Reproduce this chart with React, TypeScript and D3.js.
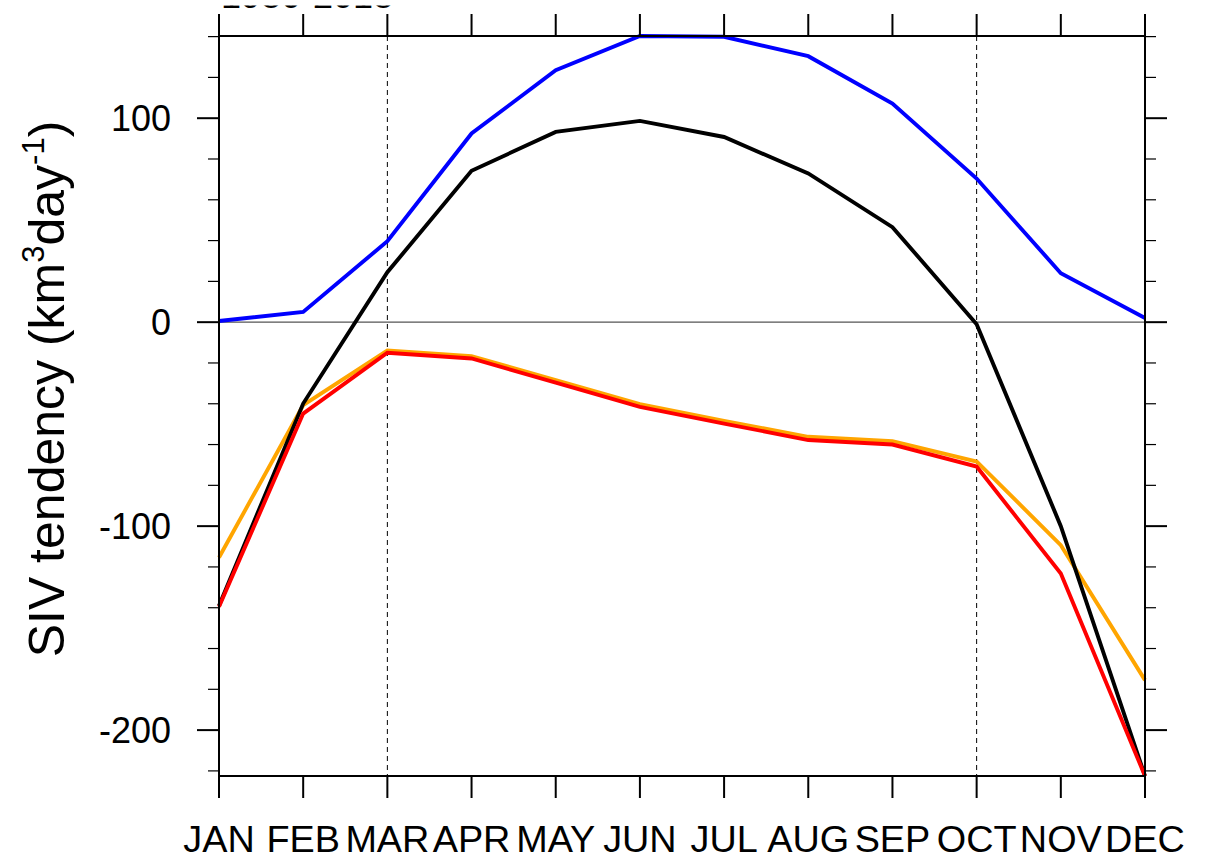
import React from "react";
import * as d3 from "d3";

const months = ["JAN", "FEB", "MAR", "APR", "MAY", "JUN", "JUL", "AUG", "SEP", "OCT", "NOV", "DEC"];
const blueSeries = [0.6, 5.0, 39.7, 92.5, 123.5, 140.3, 139.9, 130.4, 107.2, 70.4, 24.0, 2.0];
const blackSeries = [-139, -39.9, 24.5, 74.2, 93.3, 98.7, 90.8, 72.9, 46.6, -1.0, -100.0, -222.5];
const orangeSeries = [-115.4, -40.7, -13.9, -16.7, -28.4, -40.2, -48.4, -56.2, -58.3, -68.3, -109.3, -175.5];
const redSeries = [-139.5, -44.8, -15.0, -17.8, -29.7, -41.5, -49.7, -57.8, -60.0, -70.8, -123.2, -222.5];
const yMajorTicks = [-200, -100, 0, 100];
const yMinorTicks = d3.range(-220, 141, 20);
const dashedMonths = ["MAR", "OCT"];
const leftString = "1980-2018";

const W = 1212, H = 859;
const L = 219, R = 1145, T = 36, B = 776;

export default function App() {
  const x = d3.scalePoint<string>().domain(months).range([L, R]);
  const y = d3.scaleLinear().domain([-222.5, 140.3]).range([B, T]);
  const line = (vals: number[]) =>
    d3.line<number>().x((_, i) => x(months[i]) as number).y((d) => y(d))(vals) as string;

  const series = [
    { vals: blueSeries, color: "#0000ff" },
    { vals: orangeSeries, color: "#ffa500" },
    { vals: blackSeries, color: "#000000" },
    { vals: redSeries, color: "#ff0000" },
  ];
  const font = "'Liberation Sans', Arial, Helvetica, sans-serif";

  return (
    <svg width={W} height={H} style={{ position: "absolute", left: 0, top: 0, background: "#fff" }} fontFamily={font}>
      <defs>
        <clipPath id="titleClip">
          <rect x={0} y={5.5} width={W} height={4} />
        </clipPath>
      </defs>
      <rect x={0} y={0} width={W} height={H} fill="#fff" />
      <g clipPath="url(#titleClip)">
        <text x={L + 2} y={8} fontSize={36} fill="#000">{leftString}</text>
      </g>
      {/* zero line */}
      <line x1={L} x2={R} y1={y(0)} y2={y(0)} stroke="#555" strokeWidth={1.2} />
      {/* dashed month lines */}
      {dashedMonths.map((m) => (
        <line key={m} x1={x(m)} x2={x(m)} y1={T} y2={B} stroke="#000" strokeWidth={1} strokeDasharray="5,4" />
      ))}
      {/* series */}
      {series.map((s, i) => (
        <path key={i} d={line(s.vals)} fill="none" stroke={s.color} strokeWidth={3.9} strokeLinejoin="miter" />
      ))}
      {/* y minor ticks */}
      {yMinorTicks.filter((v) => !yMajorTicks.includes(v)).map((v) => (
        <g key={"m" + v}>
          <line x1={L - 11} x2={L} y1={y(v)} y2={y(v)} stroke="#000" strokeWidth={1.2} />
          <line x1={R} x2={R + 11} y1={y(v)} y2={y(v)} stroke="#000" strokeWidth={1.2} />
        </g>
      ))}
      {yMajorTicks.map((v) => (
        <g key={"M" + v}>
          <line x1={L - 22} x2={L} y1={y(v)} y2={y(v)} stroke="#000" strokeWidth={2} />
          <line x1={R} x2={R + 22} y1={y(v)} y2={y(v)} stroke="#000" strokeWidth={2} />
          <text x={171} y={y(v) + 13} fontSize={36} textAnchor="end" fill="#000">{v}</text>
        </g>
      ))}
      {/* x ticks */}
      {months.map((m) => (
        <g key={m}>
          <line x1={x(m)} x2={x(m)} y1={B} y2={B + 22} stroke="#000" strokeWidth={2} />
          <line x1={x(m)} x2={x(m)} y1={T - 22} y2={T} stroke="#000" strokeWidth={2} />
          <text transform={`translate(${x(m)},852) scale(1.05,1)`} fontSize={36} textAnchor="middle" fill="#000">{m}</text>
        </g>
      ))}
      {/* frame */}
      <rect x={L} y={T} width={R - L} height={B - T} fill="none" stroke="#000" strokeWidth={2} />
      {/* y label */}
      <text transform={`translate(64,389) rotate(-90)`} fontSize={50} textAnchor="middle" fill="#000">
        SIV tendency (km<tspan dy={-20} fontSize={31}>3</tspan><tspan dy={20}>day</tspan><tspan dy={-20} fontSize={31}>-1</tspan><tspan dy={20}>)</tspan>
      </text>
    </svg>
  );
}
